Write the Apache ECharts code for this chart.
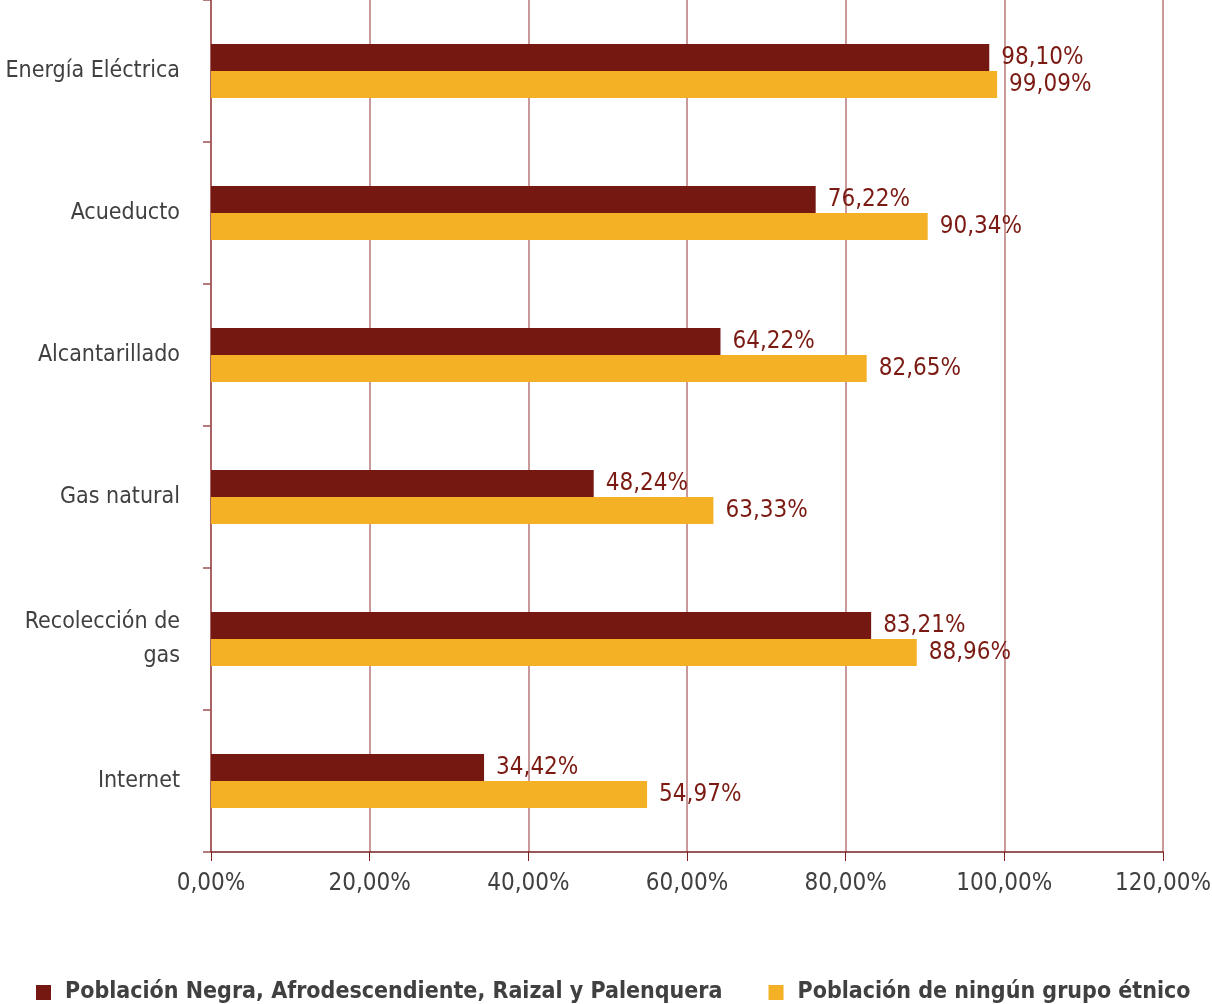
<!DOCTYPE html>
<html><head><meta charset="utf-8">
<script src="https://cdn.jsdelivr.net/npm/echarts@6/dist/echarts.min.js"></script>
<style>html,body{margin:0;padding:0;background:#fff}#c{width:1212px;height:1004px}</style>
</head><body><div id="c"></div>
<script>
const categories = ['Energía Eléctrica','Acueducto','Alcantarillado','Gas natural','Recolección de\ngas','Internet'];
const seriesNames = ['Población Negra, Afrodescendiente, Raizal y Palenquera','Población de ningún grupo étnico'];
const afroValues = [98.10, 76.22, 64.22, 48.24, 83.21, 34.42];
const noneValues = [99.09, 90.34, 82.65, 63.33, 88.96, 54.97];
const xTicks = [0, 20, 40, 60, 80, 100, 120];

const FONT = "'DejaVu Sans Condensed','DejaVu Sans',sans-serif";
const fmt = v => v.toFixed(2).replace('.', ',') + '%';
const chart = echarts.init(document.getElementById('c'), null, {renderer:'canvas'});
const labelStyle = {show:true, position:'right', distance:12, color:'#7a1a12', fontSize:24, fontFamily:FONT, formatter:p=>fmt(p.value)};
chart.setOption({
  animation:false,
  textStyle:{fontFamily:FONT},
  grid:{left:211, right:49, top:0, bottom:152, containLabel:false, outerBoundsMode:'none'},
  legend:{
    data: seriesNames,
    left:31, top:976, itemWidth:15, itemHeight:15, itemGap:46, icon:'rect',
    textStyle:{fontSize:23, fontWeight:'bold', color:'#404040', fontFamily:FONT, padding:[0,0,0,9]}
  },
  xAxis:{
    type:'value', min:xTicks[0], max:xTicks[xTicks.length-1], interval:20,
    axisLine:{show:true, lineStyle:{color:'#7a2020', width:1.5}},
    axisTick:{show:true, length:9, lineStyle:{color:'#7a2020'}},
    axisLabel:{formatter:v=>fmt(v), fontSize:24, color:'#404040', margin:20, fontFamily:FONT},
    splitLine:{show:true, lineStyle:{color:'#b87878', width:1.5}}
  },
  yAxis:{
    type:'category', data:categories, inverse:true,
    axisLine:{show:true, lineStyle:{color:'#a05050', width:1.5}},
    axisTick:{show:true, length:8, lineStyle:{color:'#a05050', width:1.5}},
    axisLabel:{fontSize:23, color:'#404040', margin:31, lineHeight:34, fontFamily:FONT, align:'right'},
    splitLine:{show:false}
  },
  series:[
    {name:seriesNames[0], type:'bar', data:afroValues, barWidth:27, barGap:'0%', itemStyle:{color:'#751812'}, label:labelStyle},
    {name:seriesNames[1], type:'bar', data:noneValues, barWidth:27, barGap:'0%', itemStyle:{color:'#f4b125'}, label:labelStyle}
  ]
});
</script></body></html>
